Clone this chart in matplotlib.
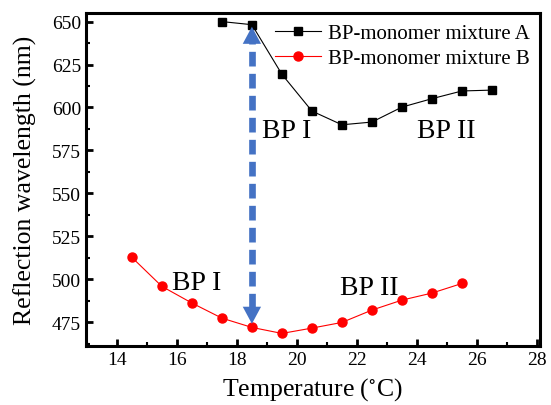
import matplotlib
matplotlib.use("Agg")
import matplotlib.pyplot as plt
from matplotlib.ticker import MultipleLocator

plt.rcParams['font.family'] = ['Liberation Serif', 'DejaVu Serif']
plt.rcParams['mathtext.fontset'] = 'stix'

temp_a = [17.5, 18.5, 19.5, 20.5, 21.5, 22.5, 23.5, 24.5, 25.5, 26.5]
wave_a = [650, 648.2, 619.3, 597.9, 589.9, 591.5, 600.2, 605.1, 609.6, 610.1]
temp_b = [14.5, 15.5, 16.5, 17.5, 18.5, 19.5, 20.5, 21.5, 22.5, 23.5, 24.5, 25.5]
wave_b = [512.7, 495.8, 486.1, 477.3, 471.9, 468.4, 471.5, 474.8, 482.0, 487.8, 491.9, 497.5]

arrow_x = 18.5
arrow_top = 647
arrow_bottom = 474

blue = '#4472C4'

fig = plt.figure(figsize=(5.51, 4.06), dpi=100)
ax = fig.add_axes([0.156, 0.145, 0.824, 0.8205])

ax.plot(temp_a, wave_a, color='black', marker='s', markersize=6.3, linewidth=0.8,
        label='BP-monomer mixture A')
ax.plot(temp_b, wave_b, color='red', marker='o', markersize=6.5, linewidth=0.8,
        label='BP-monomer mixture B')

# dashed shaft + solid heads
ax.plot([arrow_x, arrow_x], [arrow_bottom + 9, arrow_top - 9], color=blue, lw=4.8,
        linestyle=(0, (2.2, 1.1)), zorder=1)
ax.annotate('', xy=(arrow_x, arrow_top), xytext=(arrow_x, arrow_bottom),
            arrowprops=dict(arrowstyle='<|-|>,head_length=0.41,head_width=0.22',
                            color=blue, lw=0, mutation_scale=30,
                            shrinkA=0, shrinkB=0))

ax.text(18.84, 583, 'BP I', fontsize=20)
ax.text(24.0, 583, 'BP II', fontsize=20)
ax.text(15.84, 494.2, 'BP I', fontsize=20)
ax.text(21.44, 491.3, 'BP II', fontsize=20)

ax.set_xlim(12.97, 28.1)
ax.set_ylim(461, 655)
ax.xaxis.set_major_locator(MultipleLocator(2))
ax.xaxis.set_minor_locator(MultipleLocator(1))
ax.yaxis.set_major_locator(MultipleLocator(25))
ax.yaxis.set_minor_locator(MultipleLocator(12.5))
ax.tick_params(which='both', direction='in', top=False, right=False, labelsize=14)
ax.tick_params(which='major', length=5, width=2)
ax.tick_params(which='minor', length=3, width=1.5)
for s in ax.spines.values():
    s.set_linewidth(2.2)

ax.set_xlabel('Temperature ($^{\\circ}$C)', fontsize=18.5, labelpad=5)
ax.set_ylabel('Reflection wavelength (nm)', fontsize=18.5, labelpad=11)
ax.legend(loc='upper right', frameon=False, fontsize=15, handlelength=2.25,
          handletextpad=0.3, borderaxespad=0.3, borderpad=0.2, labelspacing=0.25)

fig.savefig('out.png', dpi=100)
